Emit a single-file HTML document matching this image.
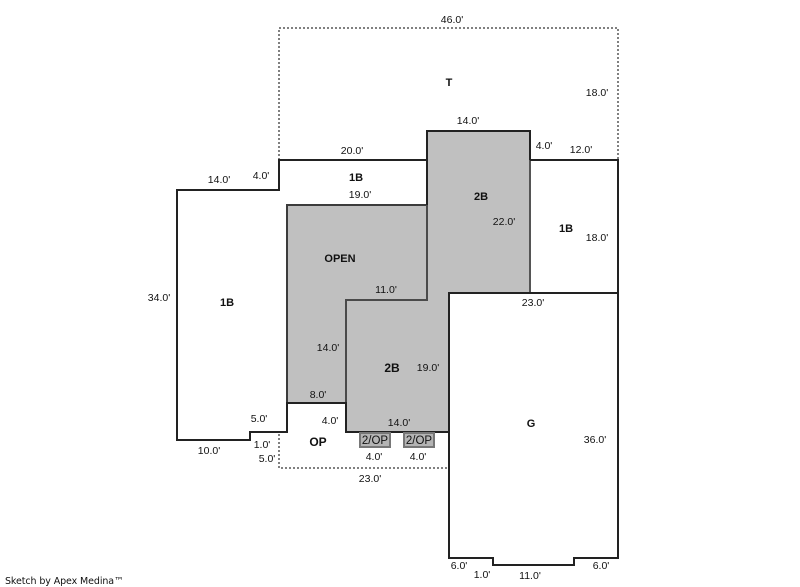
<!DOCTYPE html>
<html><head><meta charset="utf-8"><style>
html,body{margin:0;padding:0;background:#fff;width:800px;height:587px;overflow:hidden}
svg{display:block}
text{font-family:"Liberation Sans",sans-serif;font-size:10.5px;fill:#111;text-anchor:middle}
.b{font-weight:bold;font-size:11px}
path,rect{shape-rendering:crispEdges}
.o{fill:none;stroke:#222;stroke-width:2}
.d{fill:none;stroke:#808080;stroke-width:2;stroke-dasharray:2 2}
</style></head><body>
<svg width="800" height="587" viewBox="0 0 800 587">
<path class="d" d="M279 160V28H618V160"/>
<path class="d" d="M279 434V468H449"/>
<path d="M427 131H530V293H449V432H346V403H287V205H427Z" fill="#c0c0c0"/>
<path d="M287 403V205H427" fill="none" stroke="#3c3c3c" stroke-width="2"/>
<path d="M346 403V300H427V205" fill="none" stroke="#4a4a4a" stroke-width="2"/>
<path d="M530 131V293" fill="none" stroke="#555" stroke-width="2"/>
<path class="o" d="M427 160H279V190H177V440H250V432H287V403H346V432H449V558H493V565H574V558H618V160H530"/>
<path class="o" d="M427 205V131H530V160"/>
<path class="o" d="M449 432V293H618"/>
<rect x="360" y="433" width="30" height="14" fill="#b4b4b4" stroke="#777" stroke-width="2"/>
<rect x="404" y="433" width="30" height="14" fill="#b4b4b4" stroke="#777" stroke-width="2"/>
<text x="452" y="23">46.0'</text>
<text x="597" y="96">18.0'</text>
<text x="468" y="124">14.0'</text>
<text x="544" y="149">4.0'</text>
<text x="581" y="153">12.0'</text>
<text x="352" y="154">20.0'</text>
<text x="219" y="183">14.0'</text>
<text x="261" y="179">4.0'</text>
<text x="360" y="198">19.0'</text>
<text x="504" y="225">22.0'</text>
<text x="597" y="241">18.0'</text>
<text x="386" y="293">11.0'</text>
<text x="533" y="306">23.0'</text>
<text x="159" y="301">34.0'</text>
<text x="328" y="351">14.0'</text>
<text x="428" y="371">19.0'</text>
<text x="318" y="398">8.0'</text>
<text x="259" y="422">5.0'</text>
<text x="330" y="424">4.0'</text>
<text x="399" y="426">14.0'</text>
<text x="262" y="448">1.0'</text>
<text x="267" y="462">5.0'</text>
<text x="209" y="454">10.0'</text>
<text x="374" y="460">4.0'</text>
<text x="418" y="460">4.0'</text>
<text x="370" y="482">23.0'</text>
<text x="595" y="443">36.0'</text>
<text x="459" y="569">6.0'</text>
<text x="482" y="578">1.0'</text>
<text x="530" y="579">11.0'</text>
<text x="601" y="569">6.0'</text>
<text class="b" x="449" y="86">T</text>
<text class="b" x="356" y="181">1B</text>
<text class="b" x="481" y="200">2B</text>
<text class="b" x="566" y="232">1B</text>
<text class="b" x="340" y="262">OPEN</text>
<text class="b" x="227" y="306">1B</text>
<text class="b" x="392" y="372" style="font-size:12px">2B</text>
<text class="b" x="531" y="427">G</text>
<text class="b" x="318" y="446" style="font-size:12px">OP</text>
<text x="375" y="444" style="font-size:11.5px">2/OP</text>
<text x="419" y="444" style="font-size:11.5px">2/OP</text>
<text x="5" y="584" style="text-anchor:start;font-size:9.5px;font-family:'DejaVu Sans',sans-serif;letter-spacing:-.1px">Sketch by Apex Medina™</text>
</svg>
</body></html>
